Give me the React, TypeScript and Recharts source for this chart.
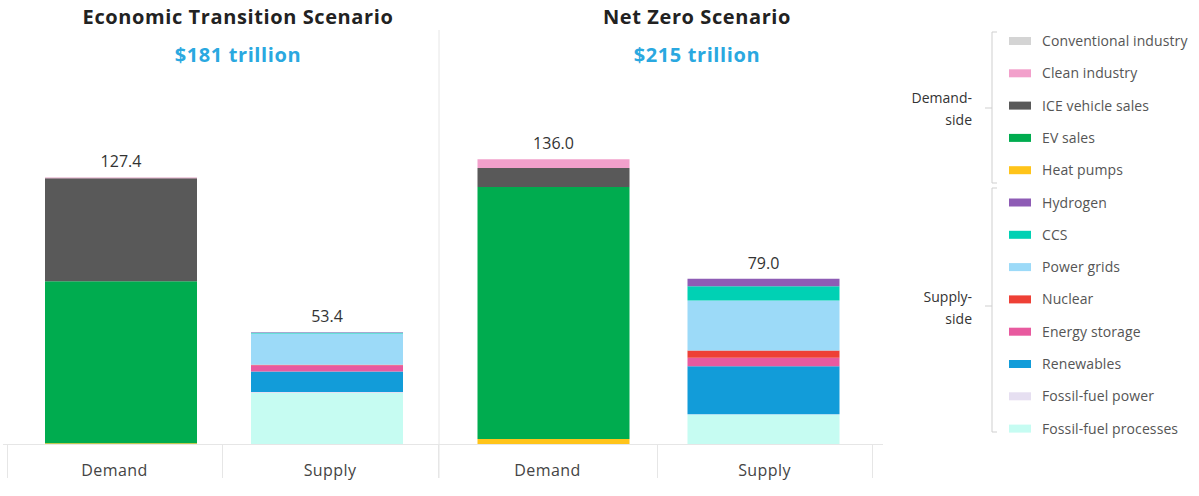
import { BarChart, Bar, XAxis, YAxis, LabelList } from "recharts";

const categories = ["Demand", "Supply"];

// stacking order, bottom to top
const demandSeries = ["Heat pumps", "EV sales", "ICE vehicle sales", "Clean industry", "Conventional industry"];
const supplySeries = [
  "Fossil-fuel processes",
  "Fossil-fuel power",
  "Renewables",
  "Energy storage",
  "Nuclear",
  "Power grids",
  "CCS",
  "Hydrogen",
];

const etsDemand = [0.4, 77.3, 49.2, 0.4, 0.1];
const etsSupply = [24.4, 0.5, 9.7, 3.0, 0.3, 14.9, 0.3, 0.3];
const nzDemand = [2.4, 120.4, 9.1, 4.1, 0];
const nzSupply = [14.1, 0.1, 22.9, 4.1, 3.5, 23.8, 6.8, 3.7];

const etsTotals = [127.4, 53.4];
const nzTotals = [136.0, 79.0];

const colors: Record<string, string> = {
  "Conventional industry": "#d4d4d4",
  "Clean industry": "#f2a0cb",
  "ICE vehicle sales": "#595959",
  "EV sales": "#00ac4f",
  "Heat pumps": "#ffc41a",
  Hydrogen: "#8e5cb5",
  CCS: "#00d1b4",
  "Power grids": "#9cdaf8",
  Nuclear: "#ee4036",
  "Energy storage": "#e85a9f",
  Renewables: "#129cd9",
  "Fossil-fuel power": "#e6dff1",
  "Fossil-fuel processes": "#c6fcf2",
};

const legendDemand = ["Conventional industry", "Clean industry", "ICE vehicle sales", "EV sales", "Heat pumps"];
const legendSupply = [
  "Hydrogen",
  "CCS",
  "Power grids",
  "Nuclear",
  "Energy storage",
  "Renewables",
  "Fossil-fuel power",
  "Fossil-fuel processes",
];

const FONT = "'Open Sans', Lato, sans-serif";
const stackOrder = [...supplySeries, ...demandSeries];

function buildRows(demand: number[], supply: number[], totals: number[]) {
  return categories.map((cat, i) => {
    const row: Record<string, number | string> = { name: cat, total: totals[i] };
    demandSeries.forEach((s, k) => (row[s] = i === 0 ? demand[k] : 0));
    supplySeries.forEach((s, k) => (row[s] = i === 1 ? supply[k] : 0));
    return row;
  });
}

// last series in the stack with a non-zero value, per row
function topSeries(rows: any[]) {
  return rows.map((r) => {
    let top = stackOrder[0];
    stackOrder.forEach((s) => {
      if (Number(r[s]) > 0) top = s;
    });
    return top;
  });
}

function AxisTick(props: any) {
  const { payload, index, centers, left } = props;
  return (
    <text
      x={centers[index] - left}
      y={476}
      textAnchor="middle"
      fontSize={16}
      letterSpacing={0.4}
      fill="#444"
      fontFamily={FONT}
    >
      {payload.value}
    </text>
  );
}

function Panel({
  rows,
  totals,
  left,
  width,
  marginLeft,
  marginRight,
  centers,
}: {
  rows: any[];
  totals: number[];
  left: number;
  width: number;
  marginLeft: number;
  marginRight: number;
  centers: number[];
}) {
  const tops = topSeries(rows);
  const midX = marginLeft + (width - marginLeft - marginRight) / 2;
  return (
    <div style={{ position: "absolute", left, top: 0 }}>
      <BarChart
        width={width}
        height={496}
        data={rows}
        margin={{ top: 130, right: marginRight, left: marginLeft, bottom: 12 }}
        barSize={152}
      >
        <XAxis
          dataKey="name"
          height={40}
          axisLine={false}
          tickLine={false}
          interval={0}
          tick={<AxisTick centers={centers} left={left} />}
        />
        <YAxis hide domain={[0, 150]} />
        {stackOrder.map((s) => (
          <Bar key={s} dataKey={s} stackId="a" fill={colors[s]} isAnimationActive={false}>
            <LabelList
              dataKey={s}
              content={(p: any) => {
                const cx = p.x + p.width / 2;
                const row = cx < midX ? 0 : 1;
                if (tops[row] !== s || !(Number(p.value) > 0)) return null;
                return (
                  <text x={cx} y={p.y - 10} textAnchor="middle" fontSize={16} fill="#333" fontFamily={FONT}>
                    {totals[row].toFixed(1)}
                  </text>
                );
              }}
            />
          </Bar>
        ))}
      </BarChart>
    </div>
  );
}

function Overlay() {
  const rowY = (i: number) => 41 + i * 32.3;
  const all = [...legendDemand, ...legendSupply];
  const boundaries = [7, 222, 438, 657, 872];
  return (
    <svg width={1199} height={496} style={{ position: "absolute", left: 0, top: 0 }}>
      {/* panel separator, axis line, category boundaries */}
      <line x1={439} x2={439} y1={30} y2={478} stroke="#e6e6e6" />
      <line x1={3} x2={883} y1={444.5} y2={444.5} stroke="#e6e6e6" />
      {boundaries.map((b) => (
        <line key={b} x1={b + 0.5} x2={b + 0.5} y1={444} y2={478} stroke="#e6e6e6" />
      ))}
      {/* legend brackets */}
      <path d="M997 32 H992 V183 H997 M992 108 H985" fill="none" stroke="#cfcfcf" />
      <path d="M997 188 H992 V432 H997 M992 306 H985" fill="none" stroke="#cfcfcf" />
      {all.map((s, i) => (
        <g key={s}>
          <rect x={1009} y={rowY(i) - 4} width={22} height={8} fill={colors[s]} />
          <text x={1042} y={rowY(i) + 5} fontSize={14} letterSpacing={0.1} fill="#555" fontFamily={FONT}>
            {s}
          </text>
        </g>
      ))}
      <text textAnchor="end" fontSize={14} fill="#333" fontFamily={FONT}>
        <tspan x={972} y={103}>Demand-</tspan>
        <tspan x={972} y={125}>side</tspan>
      </text>
      <text textAnchor="end" fontSize={14} fill="#333" fontFamily={FONT}>
        <tspan x={972} y={302}>Supply-</tspan>
        <tspan x={972} y={324}>side</tspan>
      </text>
    </svg>
  );
}

function Title({ x, title, sub }: { x: number; title: string; sub: string }) {
  return (
    <div
      style={{
        position: "absolute",
        left: x - 200,
        top: 4,
        width: 400,
        textAlign: "center",
        fontFamily: FONT,
        fontSize: 20,
        fontWeight: 700,
        letterSpacing: 0.6,
        lineHeight: "26px",
      }}
    >
      <div style={{ color: "#222" }}>{title}</div>
      <div style={{ color: "#2aa8e0", marginTop: 12 }}>{sub}</div>
    </div>
  );
}

export default function App() {
  const etsRows = buildRows(etsDemand, etsSupply, etsTotals);
  const nzRows = buildRows(nzDemand, nzSupply, nzTotals);
  return (
    <div style={{ position: "relative", width: 1199, height: 496, background: "#fff", fontFamily: FONT }}>
      <style>{`body{margin:0}`}</style>
      <Overlay />
      <Panel
        rows={etsRows}
        totals={etsTotals}
        left={0}
        width={440}
        marginLeft={18}
        marginRight={10}
        centers={[114.5, 330]}
      />
      <Panel
        rows={nzRows}
        totals={nzTotals}
        left={438}
        width={437}
        marginLeft={10.5}
        marginRight={6.5}
        centers={[547.5, 764.5]}
      />
      <Title x={238} title="Economic Transition Scenario" sub="$181 trillion" />
      <Title x={697} title="Net Zero Scenario" sub="$215 trillion" />
    </div>
  );
}
